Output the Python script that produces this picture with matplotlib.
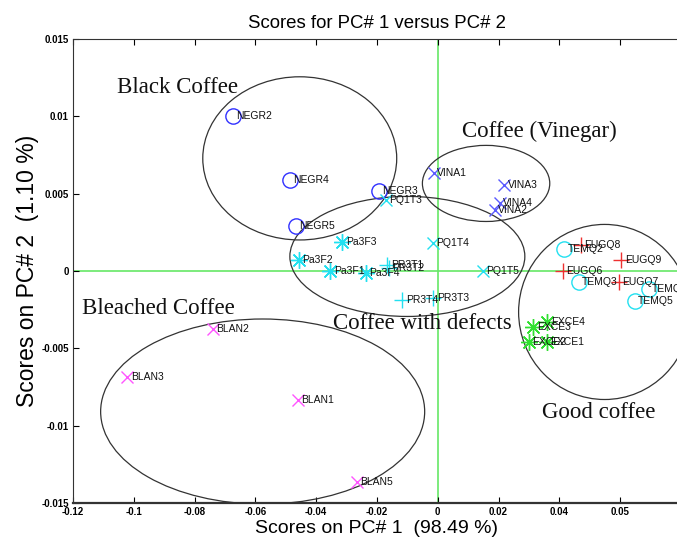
"""PCA scores plot (PC1 vs PC2) for coffee samples, with group ellipses."""

import matplotlib
matplotlib.use("Agg")
import matplotlib.pyplot as plt
from matplotlib.patches import Ellipse

plt.rcParams['font.family'] = ['Liberation Sans', 'DejaVu Sans']

# sample scores, one list per marker group
negr_names = ['NEGR2', 'NEGR4', 'NEGR3', 'NEGR5']
negr_x = [-0.0674, -0.0487, -0.0194, -0.0466]
negr_y = [0.0100, 0.00590, 0.00515, 0.00290]

vina_names = ['VINA1', 'VINA3', 'VINA4', 'VINA2']
vina_x = [-0.0013, 0.0218, 0.0204, 0.0188]
vina_y = [0.00635, 0.00558, 0.00439, 0.00391]

pq_names = ['PQ1T3', 'PQ1T4', 'PQ1T5']
pq_x = [-0.0171, -0.0016, 0.0148]
pq_y = [0.00456, 0.00178, 0.0]

pa_names = ['Pa3F3', 'Pa3F2', 'Pa3F1', 'Pa3F4']
pa_x = [-0.0314, -0.0456, -0.0353, -0.0237]
pa_y = [0.00186, 0.00072, 0.0, -0.00014]

pr_names = ['PR3T1', 'PR3T2', 'PR3T4', 'PR3T3']
pr_x = [-0.0166, -0.0160, -0.0116, -0.0015]
pr_y = [0.00040, 0.00020, -0.00186, -0.00173]

temq_names = ['TEMQ2', 'TEMQ3', 'TEMQ4', 'TEMQ5']
temq_x = [0.0416, 0.0464, 0.0694, 0.0648]
temq_y = [0.00144, -0.00072, -0.00119, -0.00191]

eugq_names = ['EUGQ8', 'EUGQ9', 'EUGQ6', 'EUGQ7']
eugq_x = [0.0470, 0.0604, 0.0412, 0.0595]
eugq_y = [0.00165, 0.00072, 0.0, -0.00072]

exce_names = ['EXCE4', 'EXCE3', 'EXCE2', 'EXCE1']
exce_x = [0.0361, 0.0314, 0.0300, 0.0358]
exce_y = [-0.00327, -0.00364, -0.00456, -0.00461]

blan_names = ['BLAN2', 'BLAN3', 'BLAN1', 'BLAN5']
blan_x = [-0.0739, -0.1021, -0.0460, -0.0267]
blan_y = [-0.00374, -0.00683, -0.00831, -0.01366]

# group ellipses: centre x, centre y, width, height
ell_cx = [-0.0454, 0.0159, -0.0100, -0.0576, 0.0549]
ell_cy = [0.00728, 0.00566, 0.00094, -0.00909, -0.00265]
ell_w = [0.0638, 0.0419, 0.0773, 0.1066, 0.0566]
ell_h = [0.01055, 0.00492, 0.00776, 0.01197, 0.01132]

group_labels = ['Black Coffee', 'Coffee (Vinegar)', 'Bleached Coffee',
                'Coffee with defects', 'Good coffee']
group_label_x = [-0.1056, 0.0079, -0.1171, -0.0345, 0.0342]
group_label_y = [0.01187, 0.00903, -0.00243, -0.00340, -0.00916]

xticks = [-0.12, -0.1, -0.08, -0.06, -0.04, -0.02, 0, 0.02, 0.04, 0.06]
xtick_labels = ['-0.12', '-0.1', '-0.08', '-0.06', '-0.04', '-0.02', '0',
                '0.02', '0.04', '0.05']
yticks = [-0.015, -0.01, -0.005, 0, 0.005, 0.01, 0.015]
ytick_labels = ['-0.015', '-0.01', '-0.005', '0', '0.005', '0.01', '0.015']

fig = plt.figure(figsize=(6.77, 5.45), dpi=100)
ax = fig.add_axes([0.1078, 0.0771, 0.898, 0.8514])

ax.axhline(0, color='#66e866', lw=1.2, zorder=1)
ax.axvline(0, color='#66e866', lw=1.2, zorder=1)

for cx, cy, w, h in zip(ell_cx, ell_cy, ell_w, ell_h):
    ax.add_patch(Ellipse((cx, cy), w, h, fill=False, ec='#333333', lw=0.9, zorder=2))

# matlab style asterisk: 8 spokes
star = (8, 2, 0)
groups = [
    (negr_names, negr_x, negr_y, 'o', '#3030ff', 11),
    (vina_names, vina_x, vina_y, 'x', '#5a5aff', 9),
    (pq_names, pq_x, pq_y, 'x', '#22e0f0', 9),
    (pa_names, pa_x, pa_y, star, '#22e0f0', 12),
    (pr_names, pr_x, pr_y, '+', '#22e0f0', 11),
    (temq_names, temq_x, temq_y, 'o', '#22e0f0', 11),
    (eugq_names, eugq_x, eugq_y, '+', '#ee3030', 11),
    (exce_names, exce_x, exce_y, star, '#30e030', 12),
    (blan_names, blan_x, blan_y, 'x', '#ff55ff', 9),
]
for names, xs, ys, mk, col, ms in groups:
    ax.plot(xs, ys, linestyle='none', marker=mk, color=col, mfc='none',
            ms=ms, mew=1.0, zorder=3)
    for name, x, y in zip(names, xs, ys):
        ax.annotate(name, (x, y), xytext=(2.5, 0), textcoords='offset points',
                    fontsize=7.5, va='center', ha='left', color='#111111', zorder=4)

for txt, x, y in zip(group_labels, group_label_x, group_label_y):
    ax.text(x, y, txt, family='Liberation Serif', fontsize=16.5,
            ha='left', va='center', color='#111111', zorder=5)

ax.set_xlim(-0.12, 0.08)
ax.set_ylim(-0.015, 0.015)
ax.set_xticks(xticks)
ax.set_xticklabels(xtick_labels)
ax.set_yticks(yticks)
ax.set_yticklabels(ytick_labels)
ax.tick_params(direction='in', top=True, right=False, length=4, width=0.8,
               labelsize=7, pad=3)
for lbl in ax.get_xticklabels() + ax.get_yticklabels():
    lbl.set_fontweight('bold')
for side in ['top', 'bottom', 'left', 'right']:
    ax.spines[side].set_color('#333333')
ax.spines['bottom'].set_linewidth(1.6)

ax.set_title('Scores for PC# 1 versus PC# 2', fontsize=13.4, pad=8)
ax.set_xlabel('Scores on PC# 1  (98.49 %)', fontsize=14, labelpad=2)
ax.set_ylabel('Scores on PC# 2  (1.10 %)', fontsize=16.5, labelpad=2)

fig.savefig('out.png', dpi=100)
